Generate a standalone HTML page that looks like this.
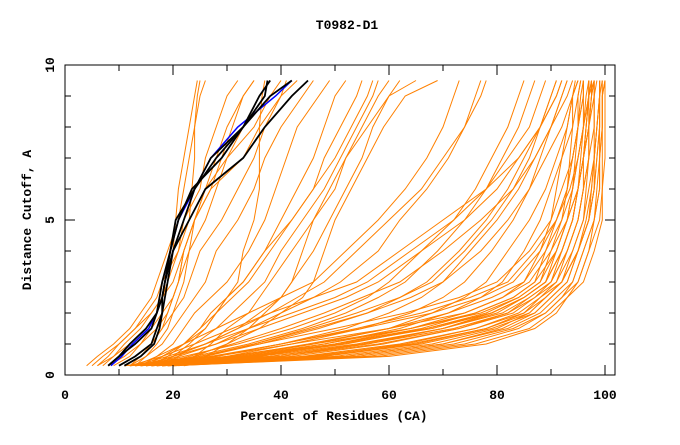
<!DOCTYPE html>
<html><head><meta charset="utf-8"><style>
body{margin:0;background:#fff}
svg text{font-family:"Liberation Mono",monospace;font-weight:bold;fill:#000}
</style></head><body>
<svg id="chart" width="680" height="440" viewBox="0 0 680 440" xmlns="http://www.w3.org/2000/svg">
<rect width="680" height="440" fill="#fff"/>
<text x="347" y="29" font-size="13" text-anchor="middle">T0982-D1</text>
<g id="series"></g>
<rect x="65" y="65" width="550" height="310" fill="none" stroke="#000" stroke-width="1"/>
<g id="axes"></g>
<text x="334" y="420" font-size="13" text-anchor="middle">Percent of Residues (CA)</text>
<text x="0" y="0" font-size="13" text-anchor="middle" transform="translate(31,220) rotate(-90)">Distance Cutoff, A</text>
</svg>
<script>
const cutoffs=[0.3,0.6,1,1.5,2,2.5,3,4,5,6,7,8,9,9.5];
const xTicks=[0,20,40,60,80,100];
const yTicks=[0,5,10];
const orangeSeries=[
[4,6,9,12,14,16,17,19,21,22,23,24,25,26],
[5,7,10,13,15,17,18,21,23,23.5,24,24,24.5,25],
[6,8,10,13,16,18,19,21,22,25,26,28,30,32],
[7,9,12,15,17,18,20,22,24,27,29,31,33,35],
[9,12,14,17,19,20,21,23,26,28,30,33,36,38],
[10,13,16,18,20,22,23,25,29,32,35,37,40,43],
[12,15,18,20,22,24,26,28,32,35,37,40,44,46],
[14,17,20,22,24,27,30,34,37,39,41,43,47,49],
[16,19,22,25,28,30,33,37,40,43,46,48,50,52],
[18,21,24,28,31,34,37,40,44,48,51,54,57,58],
[15,18,22,26,28,31,34,38,42,46,48,51,54,55],
[20,24,27,30,34,36,38,42,46,50,52,55,58,60],
[22,26,30,34,37,40,42,46,49,52,55,57,60,62],
[14,18,22,25,27,30,33,37,42,46,50,53,56,57],
[17,20,23,26,28,30,32,33,35,36,36,36,36.5,37],
[8,11,14,16,18,20,21,22,24,26,30,35,38,40],
[12,14,16,18,19,20,21,22,24,27,33,36,40,41],
[6,9,11,14,16,18,19,20,20.5,21,22,23,24,24.5],
[13,15,17,19,20,21,22,23,24,26,28,30,33,35],
[15,20,26,32,36,40,42,44,46,49,52,56,60,65],
[18,24,30,36,40,44,46,48,50,53,56,59,63,69],
[15,22,32,42,50,56,60,66,72,76,79,82,84,85],
[16,24,34,44,52,58,63,69,74,78,81,84,86,87],
[17,26,36,47,56,62,67,73,78,82,85,88,90,91],
[14,20,28,36,44,52,58,66,74,80,84,88,91,92],
[18,28,40,52,60,66,70,75,80,84,87,90,92,93],
[13,19,26,34,42,50,56,64,72,78,82,86,88,89],
[16,23,31,40,48,55,62,70,77,83,87,90,93,94],
[20,30,42,55,64,70,74,79,83,86,88,90,92,93],
[19,26,35,45,54,62,68,74,79,83,86,88,90,91],
[12,18,24,31,38,46,54,62,70,78,84,88,91,92],
[15,21,28,34,40,46,51,58,62,67,71,74,77,78],
[14,20,26,32,38,43,48,54,60,66,70,74,76,77],
[21,32,46,60,68,74,78,82,86,89,91,93,94,95],
[17,25,35,46,56,64,70,77,82,86,89,92,94,95],
[22,34,48,62,71,77,81,85,88,90,92,94,95,95.5],
[13,17,22,28,34,40,46,52,58,63,67,70,72,73],
[12,30,46,64,77,84,88,90,92,93,93.5,94,94,94.5],
[13,33,50,67,79,85,89,91,93,94,94.5,95,95,95.5],
[14,36,54,70,81,86,90,92,94,95,95.5,96,96,96],
[15,40,58,73,83,87,91,93,95,96,96,96.5,97,97],
[16,44,62,76,85,88,92,94,96,96.5,97,97,97.5,97.5],
[17,48,66,79,87,90,93,95,97,97.5,98,98,98,98],
[18,52,70,82,88,91,94,96,98,98.5,99,99,99,99],
[19,56,74,84,89,92,95,97,99,99.5,99.5,99.5,99.5,99.5],
[20,60,78,87,91,93,96,98,99.5,99.5,100,100,100,100],
[11,28,42,60,74,81,85,88,90,91,92,93,94,95],
[13,32,48,64,76,83,87,89,91,93,94,95,96,96],
[15,35,52,67,78,84,88,91,93,94,95,96,97,97],
[16,38,55,70,80,85,89,92,94,95,96,97,97,98],
[17,42,59,73,82,86,90,93,95,96,97,98,98,98.5],
[18,46,63,76,84,88,91,94,96,97,98,98.5,99,99],
[19,50,68,80,86,89,92,95,97,98,98.5,99,99,99.5],
[14,38,56,72,82,87,90,93,95,96,97,97,97.5,98],
[12,34,51,68,79,85,89,92,94,95,96,96.5,97,97],
[16,45,64,78,86,89,92,95,97,98,98.5,99,99,99],
[18,54,72,83,89,92,94,96,98,99,99,99.5,99.5,100],
[13,28,40,55,68,77,83,88,91,93,94,95,95.5,96],
[15,31,45,60,71,79,85,89,92,94,95,96,96.5,97],
[17,36,50,64,74,81,86,90,93,95,96,97,97.5,98],
[11,25,36,50,63,73,80,86,90,92,94,95,96,96],
[14,34,50,66,76,83,87,91,93,95,96,97,98,98],
[19,52,70,81,87,90,93,95,97,98,98,98.5,99,99],
[20,58,76,86,90,93,95,97,98,99,99,99.5,99.5,100],
[16,40,56,70,79,85,89,92,94,95,96,96.5,97,97.5],
[12,27,40,54,66,75,82,87,91,93.5,95,96,97,97.5],
[18,47,65,78,85,89,92,95,96.5,97.5,98,98.5,99,99]
];
const blueSeries=[8.5,10.5,12.5,15.5,17,18,18.5,19.5,21,24,27,32,39,42];
const blackSeries=[
[8,10,12,15,17,17.5,18,19.5,20.5,24,28,33,36,38],
[11,14,16.5,17.5,18,18,18.5,19.5,21,23.5,29,33,37,37.5],
[10,13,16,17,18,18.5,19,20,22,24,27,33,38,42],
[8,10,13,16,17,18,18.5,20,23,26,33,37,42,45]
];
const NS='http://www.w3.org/2000/svg';
function xs(v){return 65+v*5.4;}
function ys(v){return 375-v*31;}
const g=document.getElementById('series');
function line(vals,color,w,name){
  const p=document.createElementNS(NS,'polyline');
  p.setAttribute('points',vals.map((v,i)=>xs(v).toFixed(1)+','+ys(cutoffs[i]).toFixed(1)).join(' '));
  p.setAttribute('fill','none');
  p.setAttribute('stroke',color);
  p.setAttribute('stroke-width',w);
  
  
  g.appendChild(p);
}
orangeSeries.forEach(s=>line(s,'#ff8000',1,'model-line'));
line(blueSeries,'#0000ff',1.5,'blue-line');
blackSeries.forEach(s=>line(s,'#000',1.8,'black-line'));
const ax=document.getElementById('axes');
function el(tag,attrs){const e=document.createElementNS(NS,tag);for(const k in attrs)e.setAttribute(k,attrs[k]);ax.appendChild(e);return e;}
for(let v=0;v<=100;v+=10){
  const len=(v%20===0)?10:6;
  const t1=el('line',{x1:xs(v),x2:xs(v),y1:375,y2:375-len,stroke:'#000'});
  
  
  const t2=el('line',{x1:xs(v),x2:xs(v),y1:65,y2:65+len,stroke:'#000'});
  
  
}
for(let v=0;v<=10;v+=1){
  const len=(v%5===0)?10:6;
  const t1=el('line',{x1:65,x2:65+len,y1:ys(v),y2:ys(v),stroke:'#000'});
  
  
  const t2=el('line',{x1:615,x2:615-len,y1:ys(v),y2:ys(v),stroke:'#000'});
  
  
}
xTicks.forEach(v=>{
  const t=el('text',{x:xs(v),y:399,'font-size':13,'text-anchor':'middle'});
  t.textContent=v;
  
  
});
yTicks.forEach(v=>{
  const t=el('text',{x:0,y:0,'font-size':13,'text-anchor':'middle',transform:'translate(54,'+ys(v)+') rotate(-90)'});
  t.textContent=v;
  
  
});
</script>
</body></html>
